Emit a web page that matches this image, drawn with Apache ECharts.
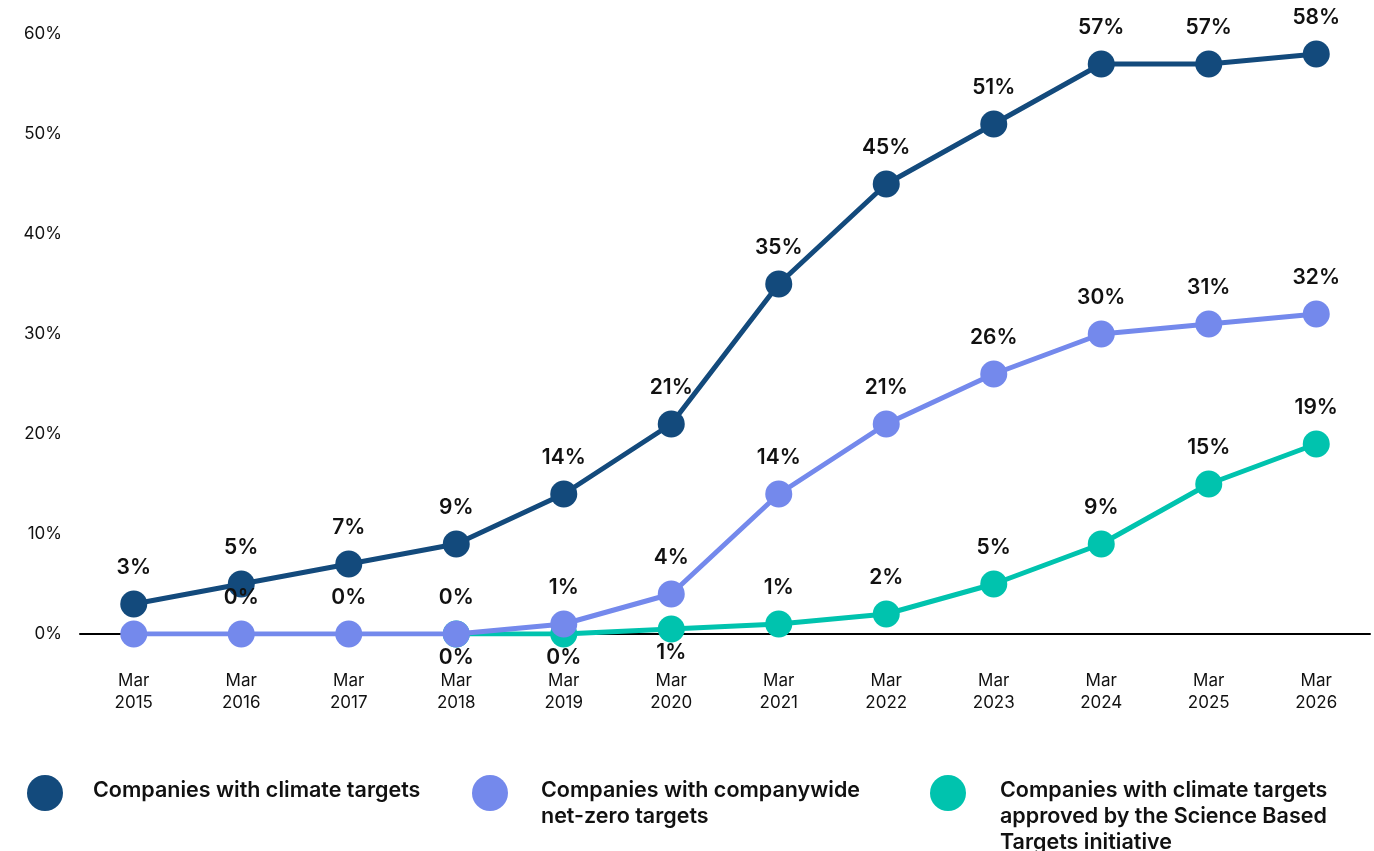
<!DOCTYPE html>
<html>
<head>
<meta charset="utf-8">
<script src="https://cdn.jsdelivr.net/npm/echarts@6/dist/echarts.min.js"></script>
<style>
html,body{margin:0;padding:0;background:#fff;}
#chart{width:1374px;height:851px;}
</style>
</head>
<body>
<div id="chart"></div>
<script>
const categories = ['Mar\n2015','Mar\n2016','Mar\n2017','Mar\n2018','Mar\n2019','Mar\n2020','Mar\n2021','Mar\n2022','Mar\n2023','Mar\n2024','Mar\n2025','Mar\n2026'];
const climateTargets = [3, 5, 7, 9, 14, 21, 35, 45, 51, 57, 57, 58];
const netZeroTargets = [0, 0, 0, 0, 1, 4, 14, 21, 26, 30, 31, 32];
const netZeroLabelShown = [false, true, true, true, true, true, true, true, true, true, true, true];
const sbtiTargets = [null, null, null, 0, 0, 0.5, 1, 2, 5, 9, 15, 19];
const sbtiLabelBelow = [false, false, false, true, true, true, false, false, false, false, false, false];
const yTicks = [0, 10, 20, 30, 40, 50, 60];
const seriesNames = ['Companies with climate targets', 'Companies with companywide net-zero targets', 'Companies with climate targets approved by the Science Based Targets initiative'];
const legendLines = [
  ['Companies with climate targets'],
  ['Companies with companywide', 'net-zero targets'],
  ['Companies with climate targets', 'approved by the Science Based', 'Targets initiative']
];
const colors = ['#134A7C', '#7489EC', '#00C3AE'];

const FONT = 'Inter, "Noto Sans", sans-serif';
const chart = echarts.init(document.getElementById('chart'), null, {renderer: 'canvas'});

const labelBase = {
  show: true,
  position: 'top',
  distance: 12,
  color: '#111',
  fontFamily: FONT,
  fontSize: 21,
  fontWeight: 600,
  formatter: p => Math.round(p.value) + '%'
};

const legendTextStyle = {color: '#111', fontFamily: FONT, fontSize: 21.5, fontWeight: 600, lineHeight: 26};

function makeLegend(i, left, top, width, lead, trail) {
  return {
    show: true,
    left: left,
    top: top,
    padding: 0,
    orient: 'vertical',
    itemWidth: width,
    itemHeight: 36,
    icon: 'circle',
    selectedMode: false,
    data: [{name: seriesNames[i], icon: 'circle'}],
    formatter: () => {
      const parts = [];
      if (lead) parts.push('{lead| }');
      legendLines[i].forEach(l => parts.push('{t|' + l + '}'));
      if (trail) parts.push('{trail| }');
      return parts.join('\n');
    },
    textStyle: Object.assign({}, legendTextStyle, {
      rich: {
        t: Object.assign({}, legendTextStyle),
        lead: {fontSize: 10, lineHeight: lead || 1},
        trail: {fontSize: 4, lineHeight: trail || 1}
      }
    })
  };
}

const option = {
  animation: false,
  backgroundColor: '#fff',
  grid: {left: 80, right: 4, top: 34, bottom: 217, containLabel: false},
  legend: [
    makeLegend(0, 27, 775, 86, 0, 4),
    makeLegend(1, 472, 756, 92, 22, 0),
    makeLegend(2, 930, 730, 94, 48, 0)
  ],
  xAxis: {
    type: 'category',
    data: categories,
    boundaryGap: true,
    axisLine: {show: true, lineStyle: {color: '#000', width: 2}},
    axisTick: {show: false},
    axisLabel: {
      color: '#111',
      fontFamily: FONT,
      fontSize: 17,
      lineHeight: 22,
      margin: 36,
      interval: 0
    }
  },
  yAxis: {
    type: 'value',
    min: 0,
    max: 60,
    interval: 10,
    axisLine: {show: false},
    axisTick: {show: false},
    splitLine: {show: false},
    axisLabel: {
      color: '#111',
      fontFamily: FONT,
      fontSize: 17,
      margin: 18,
      formatter: v => yTicks.includes(v) ? v + '%' : ''
    }
  },
  series: [
    {
      name: seriesNames[0],
      type: 'line',
      data: climateTargets,
      z: 2,
      color: colors[0],
      symbol: 'circle',
      symbolSize: 27,
      lineStyle: {width: 5, color: colors[0]},
      itemStyle: {color: colors[0]},
      label: Object.assign({}, labelBase)
    },
    {
      name: seriesNames[1],
      type: 'line',
      data: netZeroTargets.map((v, i) => netZeroLabelShown[i] ? v : {value: v, label: {show: false}}),
      z: 4,
      color: colors[1],
      symbol: 'circle',
      symbolSize: 27,
      lineStyle: {width: 5, color: colors[1]},
      itemStyle: {color: colors[1]},
      label: Object.assign({}, labelBase)
    },
    {
      name: seriesNames[2],
      type: 'line',
      data: sbtiTargets.map((v, i) => sbtiLabelBelow[i]
        ? {value: v, label: {position: 'bottom', distance: 0}}
        : v),
      z: 3,
      color: colors[2],
      symbol: 'circle',
      symbolSize: 27,
      lineStyle: {width: 5, color: colors[2]},
      itemStyle: {color: colors[2]},
      label: Object.assign({}, labelBase)
    }
  ]
};
chart.setOption(option);
</script>
</body>
</html>
